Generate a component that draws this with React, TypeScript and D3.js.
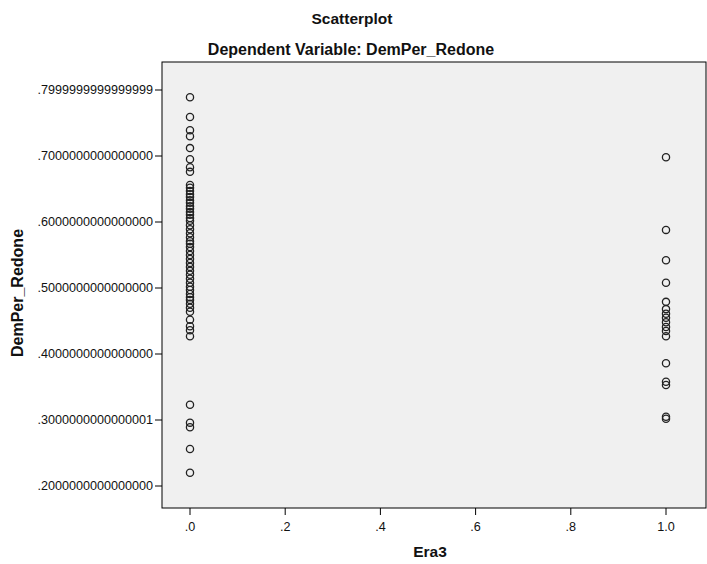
import React from "react";
import * as d3 from "d3";

const era0Values = [
  0.789, 0.759, 0.739, 0.73, 0.712, 0.695, 0.683, 0.676, 0.656, 0.652, 0.647, 0.642,
  0.638, 0.633, 0.629, 0.624, 0.62, 0.615, 0.611, 0.606, 0.602, 0.595, 0.589, 0.583,
  0.577, 0.571, 0.567, 0.562, 0.556, 0.55, 0.544, 0.538, 0.532, 0.526, 0.52, 0.514,
  0.508, 0.502, 0.497, 0.491, 0.486, 0.482, 0.476, 0.47, 0.464, 0.452, 0.442, 0.436,
  0.427, 0.323, 0.296, 0.289, 0.256, 0.22,
];
const era1Values = [
  0.698, 0.588, 0.542, 0.508, 0.479, 0.468, 0.461, 0.455, 0.448, 0.441, 0.435, 0.427,
  0.386, 0.358, 0.353, 0.305, 0.302,
];
const yTicks = [0.2, 0.3, 0.4, 0.5, 0.6, 0.7, 0.8];
const yTickLabels = [
  ".2000000000000000",
  ".3000000000000001",
  ".4000000000000000",
  ".5000000000000000",
  ".6000000000000000",
  ".7000000000000000",
  ".7999999999999999",
];
const xTicks = [0, 0.2, 0.4, 0.6, 0.8, 1.0];
const xTickLabels = [".0", ".2", ".4", ".6", ".8", "1.0"];

const W = 707;
const H = 564;
const plot = { left: 162, right: 706, top: 62, bottom: 508 };

export default function App() {
  const x = d3.scaleLinear().domain([0, 1]).range([190, 666]);
  const y = d3.scaleLinear().domain([0.2, 0.8]).range([486, 90]);
  const font = "'Liberation Sans', Arial, sans-serif";
  const points = [
    ...era0Values.map((v) => ({ era: 0, v })),
    ...era1Values.map((v) => ({ era: 1, v })),
  ];
  return (
    <svg
      width={W}
      height={H}
      style={{ position: "absolute", left: 0, top: 0, background: "#fff" }}
      fontFamily={font}
    >
      <text x={352} y={24} textAnchor="middle" fontSize={15.5} fontWeight="bold" fill="#111">
        Scatterplot
      </text>
      <text x={351} y={55} textAnchor="middle" fontSize={16} fontWeight="bold" fill="#111">
        Dependent Variable: DemPer_Redone
      </text>
      <rect
        x={plot.left}
        y={plot.top}
        width={plot.right - plot.left}
        height={plot.bottom - plot.top}
        fill="#f0f0f0"
        stroke="#000"
        strokeWidth={1}
      />
      {yTicks.map((t, i) => (
        <g key={"y" + i}>
          <line x1={155} x2={plot.left} y1={y(t)} y2={y(t)} stroke="#000" />
          <text x={153} y={y(t) + 4} textAnchor="end" fontSize={12.6} fill="#111">
            {yTickLabels[i]}
          </text>
        </g>
      ))}
      {xTicks.map((t, i) => (
        <g key={"x" + i}>
          <line x1={x(t)} x2={x(t)} y1={plot.bottom} y2={plot.bottom + 7} stroke="#000" />
          <text x={x(t)} y={531} textAnchor="middle" fontSize={12.6} fill="#111">
            {xTickLabels[i]}
          </text>
        </g>
      ))}
      <text x={430} y={557} textAnchor="middle" fontSize={15.5} fontWeight="bold" fill="#111">
        Era3
      </text>
      <text
        transform={`translate(23, 293) rotate(-90)`}
        textAnchor="middle"
        fontSize={16}
        fontWeight="bold"
        fill="#111"
      >
        DemPer_Redone
      </text>
      {points.map((p, i) => (
        <circle
          key={i}
          cx={x(p.era)}
          cy={y(p.v)}
          r={3.6}
          fill="none"
          stroke="#222"
          strokeWidth={1.3}
        />
      ))}
    </svg>
  );
}
